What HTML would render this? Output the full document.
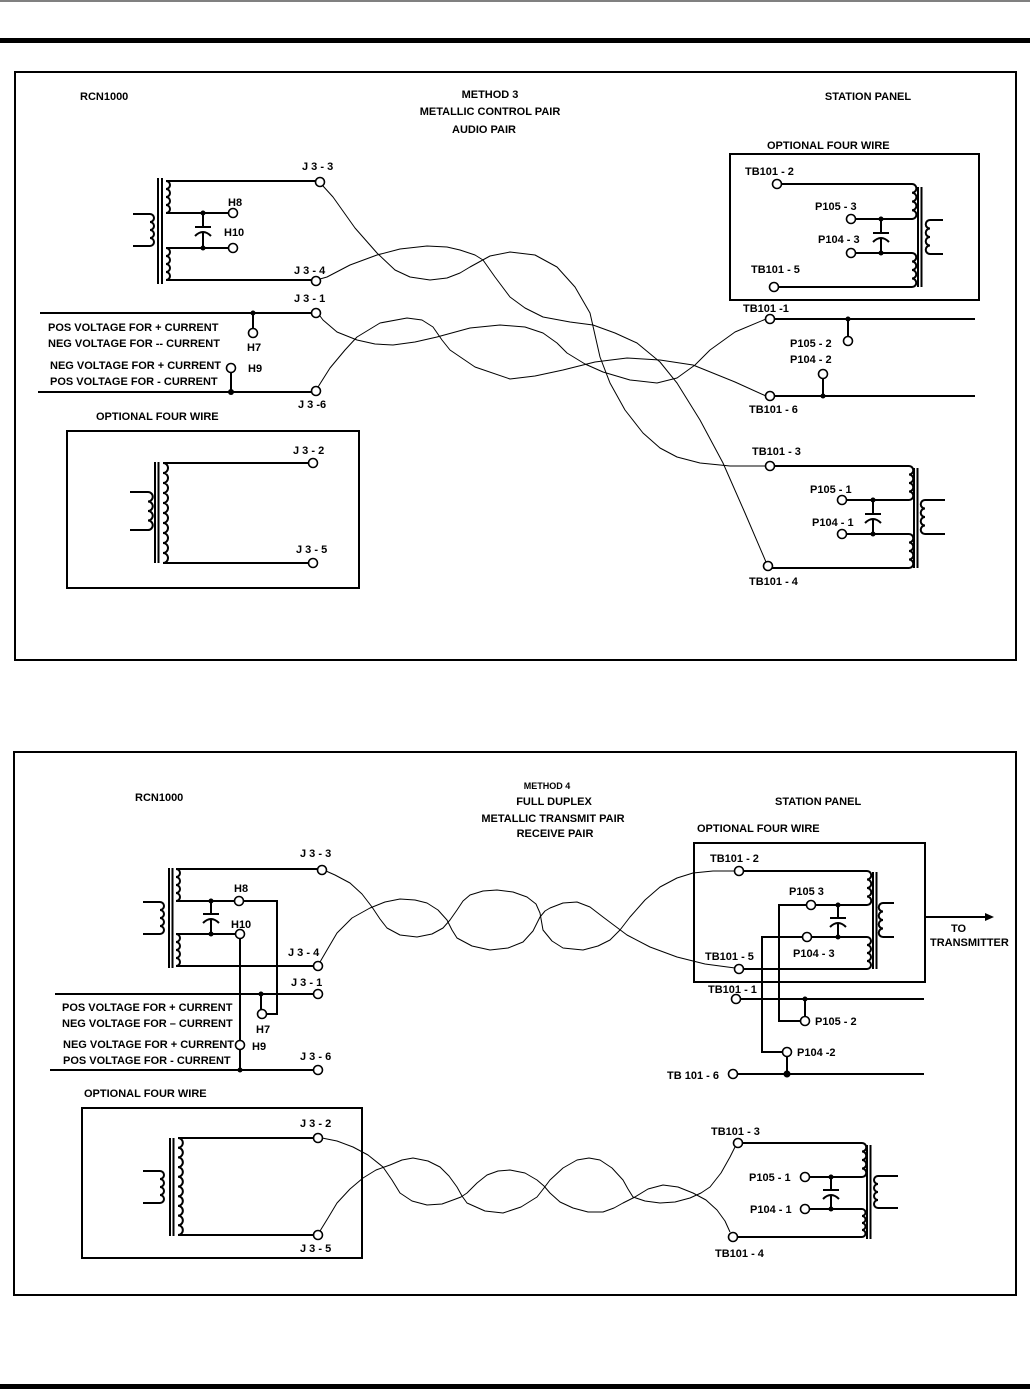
<!DOCTYPE html>
<html><head><meta charset="utf-8"><style>
html,body{margin:0;padding:0;background:#fff}
svg{display:block}
text{font-family:"Liberation Sans",Arial,sans-serif;font-weight:bold;font-size:11px;fill:#000}
.w{stroke:#000;stroke-width:2;fill:none}
.t{stroke:#000;stroke-width:1;fill:none;stroke-linejoin:round}
.c{stroke:#000;stroke-width:1.6;fill:#fff}
.d{fill:#000}
</style></head><body>
<svg width="1030" height="1390" viewBox="0 0 1030 1390" xmlns="http://www.w3.org/2000/svg">
<line x1="0" y1="1" x2="1030" y2="1" stroke="#000" stroke-width="1"/>
<rect x="0" y="38" width="1030" height="5" fill="#000"/>
<rect x="0" y="1384" width="1030" height="5" fill="#000"/>

<!-- ===== PANEL 1 ===== -->
<rect x="15" y="72" width="1001" height="588" class="w" stroke-width="1.2"/>
<text x="80" y="100">RCN1000</text>
<text x="490" y="98" text-anchor="middle">METHOD 3</text>
<text x="490" y="115" text-anchor="middle">METALLIC CONTROL PAIR</text>
<text x="484" y="133" text-anchor="middle">AUDIO PAIR</text>
<text x="868" y="100" text-anchor="middle">STATION PANEL</text>

<!-- left transformer -->
<path class="w" d="M133,214 H150 a4,4 0 0 1 0,8 a4,4 0 0 1 0,8 a4,4 0 0 1 0,8 a4,4 0 0 1 0,8 H133"/>
<line class="w" x1="158" y1="178" x2="158" y2="284"/><line class="w" x1="162" y1="178" x2="162" y2="284"/>
<path class="w" d="M316,181 H166 a4,4 0 0 1 0,8 a4,4 0 0 1 0,8 a4,4 0 0 1 0,8 a4,4 0 0 1 0,8 H229"/>
<path class="w" d="M229,248 H166 a4,4 0 0 1 0,8 a4,4 0 0 1 0,8 a4,4 0 0 1 0,8 a4,4 0 0 1 0,8 H312"/>
<path class="w" d="M203,213 V227 M195,227 H211 M203,233 V248 M195,236 Q203,228 211,236"/>
<circle class="d" cx="203" cy="213" r="2.5"/><circle class="d" cx="203" cy="248" r="2.5"/>
<circle class="c" cx="233" cy="213" r="4.5"/><circle class="c" cx="233" cy="248" r="4.5"/>
<circle class="c" cx="320" cy="182" r="4.5"/><circle class="c" cx="316" cy="281" r="4.5"/>
<text x="302" y="170">J 3 - 3</text><text x="228" y="206">H8</text><text x="224" y="236">H10</text>
<text x="294" y="274">J 3 - 4</text><text x="294" y="302">J 3 - 1</text>

<path class="w" d="M40,313 H312 M253,313 V329"/>
<circle class="d" cx="253" cy="313" r="2.5"/><circle class="c" cx="253" cy="333" r="4.5"/>
<circle class="c" cx="316" cy="313" r="4.5"/>
<text x="247" y="351">H7</text>
<text x="48" y="331">POS VOLTAGE FOR + CURRENT</text>
<text x="48" y="347">NEG VOLTAGE FOR -- CURRENT</text>
<text x="50" y="369">NEG VOLTAGE FOR + CURRENT</text>
<text x="50" y="385">POS VOLTAGE FOR  - CURRENT</text>
<path class="w" d="M38,392 H312 M231,392 V372"/>
<circle class="d" cx="231" cy="392" r="3"/><circle class="c" cx="231" cy="368" r="4.5"/>
<circle class="c" cx="316" cy="391" r="4.5"/>
<text x="248" y="372">H9</text><text x="298" y="408">J 3 -6</text>

<text x="96" y="420">OPTIONAL FOUR WIRE</text>
<rect x="67" y="431" width="292" height="157" class="w"/>
<path class="w" d="M130,492 H148 a4.75,4.75 0 0 1 0,9.5 a4.75,4.75 0 0 1 0,9.5 a4.75,4.75 0 0 1 0,9.5 a4.75,4.75 0 0 1 0,9.5 H130"/>
<line class="w" x1="155" y1="462" x2="155" y2="563"/><line class="w" x1="158.5" y1="462" x2="158.5" y2="563"/>
<path class="w" d="M309,463 H163 a5,5 0 0 1 0,10 a5,5 0 0 1 0,10 a5,5 0 0 1 0,10 a5,5 0 0 1 0,10 a5,5 0 0 1 0,10 a5,5 0 0 1 0,10 a5,5 0 0 1 0,10 a5,5 0 0 1 0,10 a5,5 0 0 1 0,10 a5,5 0 0 1 0,10 H309"/>
<circle class="c" cx="313" cy="463" r="4.5"/><circle class="c" cx="313" cy="563" r="4.5"/>
<text x="293" y="454">J 3 - 2</text><text x="296" y="553">J 3 - 5</text>

<!-- right side panel 1 -->
<text x="767" y="149">OPTIONAL FOUR WIRE</text>
<rect x="730" y="154" width="249" height="146" class="w"/>
<path class="w" d="M781,184 H912 a4.375,4.375 0 0 1 0,8.75 a4.375,4.375 0 0 1 0,8.75 a4.375,4.375 0 0 1 0,8.75 a4.375,4.375 0 0 1 0,8.75 H855"/>
<path class="w" d="M855,253 H912 a4.25,4.25 0 0 1 0,8.5 a4.25,4.25 0 0 1 0,8.5 a4.25,4.25 0 0 1 0,8.5 a4.25,4.25 0 0 1 0,8.5 H778"/>
<line class="w" x1="918" y1="187" x2="918" y2="287"/><line class="w" x1="921.5" y1="187" x2="921.5" y2="287"/>
<path class="w" d="M943,220 H930 a4.25,4.25 0 0 0 0,8.5 a4.25,4.25 0 0 0 0,8.5 a4.25,4.25 0 0 0 0,8.5 a4.25,4.25 0 0 0 0,8.5 H943"/>
<path class="w" d="M881,219 V233 M873,233 H889 M881,239 V253 M873,242 Q881,234 889,242"/>
<circle class="d" cx="881" cy="219" r="2.5"/><circle class="d" cx="881" cy="253" r="2.5"/>
<circle class="c" cx="777" cy="184" r="4.5"/><circle class="c" cx="851" cy="219" r="4.5"/>
<circle class="c" cx="851" cy="253" r="4.5"/><circle class="c" cx="774" cy="287" r="4.5"/>
<text x="745" y="175">TB101 - 2</text><text x="815" y="210">P105 - 3</text>
<text x="818" y="243">P104 - 3</text><text x="751" y="273">TB101 - 5</text>

<path class="w" d="M774,319 H975 M848,319 V337"/>
<circle class="d" cx="848" cy="319" r="2.5"/><circle class="c" cx="848" cy="341" r="4.5"/>
<circle class="c" cx="770" cy="319" r="4.5"/>
<text x="743" y="312">TB101 -1</text><text x="790" y="347">P105 - 2</text><text x="790" y="363">P104 - 2</text>
<path class="w" d="M774,396 H975 M823,378 V396"/>
<circle class="d" cx="823" cy="396" r="2.5"/><circle class="c" cx="823" cy="374" r="4.5"/>
<circle class="c" cx="770" cy="396" r="4.5"/>
<text x="749" y="413">TB101 - 6</text>

<path class="w" d="M774,466 H909 a4.25,4.25 0 0 1 0,8.5 a4.25,4.25 0 0 1 0,8.5 a4.25,4.25 0 0 1 0,8.5 a4.25,4.25 0 0 1 0,8.5 H846"/>
<path class="w" d="M846,534 H909 a4.25,4.25 0 0 1 0,8.5 a4.25,4.25 0 0 1 0,8.5 a4.25,4.25 0 0 1 0,8.5 a4.25,4.25 0 0 1 0,8.5 H772"/>
<line class="w" x1="914" y1="468" x2="914" y2="568"/><line class="w" x1="917.5" y1="468" x2="917.5" y2="568"/>
<path class="w" d="M945,500 H925 a4.25,4.25 0 0 0 0,8.5 a4.25,4.25 0 0 0 0,8.5 a4.25,4.25 0 0 0 0,8.5 a4.25,4.25 0 0 0 0,8.5 H945"/>
<path class="w" d="M873,500 V514 M865,514 H881 M873,520 V534 M865,523 Q873,515 881,523"/>
<circle class="d" cx="873" cy="500" r="2.5"/><circle class="d" cx="873" cy="534" r="2.5"/>
<circle class="c" cx="770" cy="466" r="4.5"/><circle class="c" cx="842" cy="500" r="4.5"/>
<circle class="c" cx="842" cy="534" r="4.5"/><circle class="c" cx="768" cy="566" r="4.5"/>
<text x="752" y="455">TB101 - 3</text><text x="810" y="493">P105 - 1</text>
<text x="812" y="526">P104 - 1</text><text x="749" y="585">TB101 - 4</text>

<!-- twisted wires panel 1 -->
<polyline class="t" points="323,186 333,197 355,228 377,253 395,270 410,277 430,280 447,278 460,273 470,267 490,256 510,252 535,255 557,267 575,287 590,313 600,357 610,383 625,410 643,433 660,448 677,457 700,463 730,466 766,466"/>
<polyline class="t" points="320,279 327,277 350,265 377,255 400,249 427,246 447,247 460,250 475,255 483,260 495,277 510,297 525,308 543,317 570,322 593,325 615,333 637,343 660,362 677,383 700,420 723,463 745,513 766,562"/>
<polyline class="t" points="320,316 323,320 337,332 357,340 375,344 393,345 415,342 437,337 470,328 500,325 525,327 543,333 557,343 567,353 585,364 603,372 630,380 657,383 677,378 695,365 710,350 735,332 766,319"/>
<polyline class="t" points="318,387 330,368 345,350 357,337 380,323 407,318 422,320 433,327 442,340 450,350 475,367 510,379 535,376 563,370 595,362 627,358 660,360 693,365 735,382 766,396"/>

<!-- ===== PANEL 2 ===== -->
<rect x="14" y="752" width="1002" height="543" class="w" stroke-width="1.2"/>
<text x="135" y="801">RCN1000</text>
<text x="547" y="789" text-anchor="middle" style="font-size:9px">METHOD 4</text>
<text x="554" y="805" text-anchor="middle">FULL DUPLEX</text>
<text x="553" y="822" text-anchor="middle">METALLIC TRANSMIT PAIR</text>
<text x="555" y="837" text-anchor="middle">RECEIVE PAIR</text>
<text x="775" y="805">STATION PANEL</text>
<text x="697" y="832">OPTIONAL FOUR WIRE</text>

<path class="w" d="M143,902 H160 a4,4 0 0 1 0,8 a4,4 0 0 1 0,8 a4,4 0 0 1 0,8 a4,4 0 0 1 0,8 H143"/>
<line class="w" x1="169" y1="868" x2="169" y2="968"/><line class="w" x1="172.5" y1="868" x2="172.5" y2="968"/>
<path class="w" d="M318,869 H176 a4,4 0 0 1 0,8 a4,4 0 0 1 0,8 a4,4 0 0 1 0,8 a4,4 0 0 1 0,8 H235"/>
<path class="w" d="M243,901 H277 V1014 H266"/>
<path class="w" d="M236,934 H176 a4,4 0 0 1 0,8 a4,4 0 0 1 0,8 a4,4 0 0 1 0,8 a4,4 0 0 1 0,8 H314"/>
<path class="w" d="M240,938 V1041 M240,1049 V1070"/>
<path class="w" d="M211,901 V914 M203,914 H219 M211,920 V934 M203,923 Q211,915 219,923"/>
<circle class="d" cx="211" cy="901" r="2.5"/><circle class="d" cx="211" cy="934" r="2.5"/>
<circle class="c" cx="239" cy="901" r="4.5"/><circle class="c" cx="240" cy="934" r="4.5"/>
<circle class="c" cx="322" cy="870" r="4.5"/><circle class="c" cx="318" cy="966" r="4.5"/>
<text x="300" y="857">J 3 - 3</text><text x="234" y="892">H8</text><text x="231" y="928">H10</text>
<text x="288" y="956">J 3 - 4</text><text x="291" y="986">J 3 - 1</text>
<path class="w" d="M55,994 H314 M261,994 V1010"/>
<circle class="d" cx="261" cy="994" r="2.5"/><circle class="c" cx="262" cy="1014" r="4.5"/>
<circle class="c" cx="318" cy="994" r="4.5"/>
<text x="256" y="1033">H7</text>
<text x="62" y="1011">POS VOLTAGE FOR + CURRENT</text>
<text x="62" y="1027">NEG VOLTAGE FOR – CURRENT</text>
<text x="63" y="1048">NEG VOLTAGE FOR + CURRENT</text>
<text x="63" y="1064">POS VOLTAGE FOR  - CURRENT</text>
<path class="w" d="M50,1070 H314"/>
<circle class="d" cx="240" cy="1070" r="2.5"/><circle class="c" cx="240" cy="1045" r="4.5"/>
<circle class="c" cx="318" cy="1070" r="4.5"/>
<text x="252" y="1050">H9</text><text x="300" y="1060">J 3 - 6</text>

<text x="84" y="1097">OPTIONAL FOUR WIRE</text>
<rect x="82" y="1108" width="280" height="150" class="w"/>
<path class="w" d="M143,1171 H160 a4,4 0 0 1 0,8 a4,4 0 0 1 0,8 a4,4 0 0 1 0,8 a4,4 0 0 1 0,8 H143"/>
<line class="w" x1="170" y1="1138" x2="170" y2="1236"/><line class="w" x1="173.5" y1="1138" x2="173.5" y2="1236"/>
<path class="w" d="M314,1138 H178 a4.85,4.85 0 0 1 0,9.7 a4.85,4.85 0 0 1 0,9.7 a4.85,4.85 0 0 1 0,9.7 a4.85,4.85 0 0 1 0,9.7 a4.85,4.85 0 0 1 0,9.7 a4.85,4.85 0 0 1 0,9.7 a4.85,4.85 0 0 1 0,9.7 a4.85,4.85 0 0 1 0,9.7 a4.85,4.85 0 0 1 0,9.7 a4.85,4.85 0 0 1 0,9.7 H314"/>
<circle class="c" cx="318" cy="1138" r="4.5"/><circle class="c" cx="318" cy="1235" r="4.5"/>
<text x="300" y="1127">J 3 - 2</text><text x="300" y="1252">J 3 - 5</text>

<!-- right panel 2 -->
<rect x="694" y="843" width="231" height="139" class="w"/>
<path class="w" d="M743,871 H867 a4.25,4.25 0 0 1 0,8.5 a4.25,4.25 0 0 1 0,8.5 a4.25,4.25 0 0 1 0,8.5 a4.25,4.25 0 0 1 0,8.5 H815"/>
<path class="w" d="M807,905 H779 V1021 H801"/>
<path class="w" d="M811,937 H867 a4,4 0 0 1 0,8 a4,4 0 0 1 0,8 a4,4 0 0 1 0,8 a4,4 0 0 1 0,8 H743"/>
<path class="w" d="M803,937 H762 V1052 H783"/>
<line class="w" x1="873" y1="872" x2="873" y2="969"/><line class="w" x1="876.5" y1="872" x2="876.5" y2="969"/>
<path class="w" d="M894,903 H883 a4.25,4.25 0 0 0 0,8.5 a4.25,4.25 0 0 0 0,8.5 a4.25,4.25 0 0 0 0,8.5 a4.25,4.25 0 0 0 0,8.5 H894"/>
<path class="w" d="M838,905 V918 M830,918 H846 M838,924 V937 M830,927 Q838,919 846,927"/>
<circle class="d" cx="838" cy="905" r="2.5"/><circle class="d" cx="838" cy="937" r="2.5"/>
<path class="w" d="M925,917 H986"/><polygon points="985,913 994,917 985,921" fill="#000"/>
<text x="951" y="932">TO</text><text x="930" y="946">TRANSMITTER</text>
<circle class="c" cx="739" cy="871" r="4.5"/><circle class="c" cx="811" cy="905" r="4.5"/>
<circle class="c" cx="807" cy="937" r="4.5"/><circle class="c" cx="739" cy="969" r="4.5"/>
<text x="710" y="862">TB101 - 2</text><text x="789" y="895">P105   3</text>
<text x="793" y="957">P104 - 3</text><text x="705" y="960">TB101 - 5</text>

<path class="w" d="M740,999 H924 M805,999 V1017"/>
<circle class="d" cx="805" cy="999" r="2.5"/><circle class="c" cx="805" cy="1021" r="4.5"/>
<circle class="c" cx="736" cy="999" r="4.5"/>
<text x="708" y="993">TB101 - 1</text><text x="815" y="1025">P105 - 2</text>
<path class="w" d="M737,1074 H924 M787,1056 V1074"/>
<circle class="d" cx="787" cy="1074" r="3.5"/><circle class="c" cx="787" cy="1052" r="4.5"/>
<circle class="c" cx="733" cy="1074" r="4.5"/>
<text x="797" y="1056">P104 -2</text><text x="667" y="1079">TB 101 - 6</text>

<path class="w" d="M742,1143 H862 a4.25,4.25 0 0 1 0,8.5 a4.25,4.25 0 0 1 0,8.5 a4.25,4.25 0 0 1 0,8.5 a4.25,4.25 0 0 1 0,8.5 H809"/>
<path class="w" d="M809,1209 H862 a3.5,3.5 0 0 1 0,7 a3.5,3.5 0 0 1 0,7 a3.5,3.5 0 0 1 0,7 a3.5,3.5 0 0 1 0,7 H737"/>
<line class="w" x1="867" y1="1145" x2="867" y2="1239"/><line class="w" x1="870.5" y1="1145" x2="870.5" y2="1239"/>
<path class="w" d="M898,1176 H878 a4,4 0 0 0 0,8 a4,4 0 0 0 0,8 a4,4 0 0 0 0,8 a4,4 0 0 0 0,8 H898"/>
<path class="w" d="M831,1177 V1190 M823,1190 H839 M831,1196 V1209 M823,1199 Q831,1191 839,1199"/>
<circle class="d" cx="831" cy="1177" r="2.5"/><circle class="d" cx="831" cy="1209" r="2.5"/>
<circle class="c" cx="738" cy="1143" r="4.5"/><circle class="c" cx="805" cy="1177" r="4.5"/>
<circle class="c" cx="805" cy="1209" r="4.5"/><circle class="c" cx="733" cy="1237" r="4.5"/>
<text x="711" y="1135">TB101 - 3</text><text x="749" y="1181">P105 - 1</text>
<text x="750" y="1213">P104 - 1</text><text x="715" y="1257">TB101 - 4</text>

<!-- twisted wires panel 2 -->
<polyline class="t" points="326,871 335,875 350,883 362,894 372,907 380,919 387,928 400,935 417,937 432,934 443,928 450,920 457,910 463,901 470,895 483,891 497,890 513,892 527,897 536,904 540,913 543,930 552,941 563,948 583,950 598,946 610,940 620,930 630,917 645,900 660,887 677,878 693,873 713,871 735,871"/>
<polyline class="t" points="320,962 327,950 337,933 352,918 370,908 385,902 400,899 415,900 427,903 438,910 447,920 452,930 457,938 472,946 490,950 508,948 523,942 533,931 540,917 545,911 550,908 563,903 577,902 590,907 603,917 615,926 627,935 650,947 677,957 705,964 735,968"/>
<polyline class="t" points="322,1138 337,1141 353,1147 368,1155 383,1167 392,1180 400,1193 412,1201 427,1205 442,1204 453,1200 461,1197 467,1193 477,1183 487,1175 498,1171 510,1170 525,1173 537,1180 544,1186 550,1193 560,1202 573,1208 588,1212 603,1212 614,1208 623,1203 629,1200 635,1197 648,1189 663,1185 678,1187 693,1193 706,1200 717,1210 725,1221 730,1232"/>
<polyline class="t" points="320,1231 328,1218 337,1203 350,1189 363,1178 376,1170 390,1165 402,1160 413,1158 428,1161 440,1167 449,1176 457,1187 462,1196 467,1203 485,1211 503,1213 521,1207 537,1197 544,1188 550,1180 563,1168 577,1160 589,1158 600,1160 612,1168 623,1180 628,1189 633,1197 645,1201 660,1203 675,1202 690,1198 701,1193 710,1187 721,1173 730,1157 735,1147"/>
</svg>
</body></html>
